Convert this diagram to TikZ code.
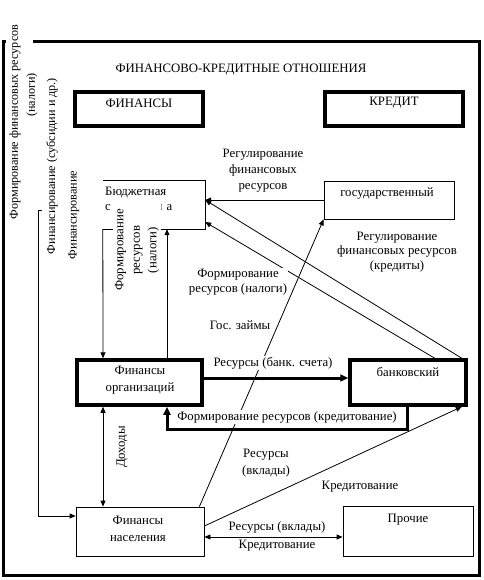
\documentclass[tikz,border=0pt]{standalone}
\usepackage{fontspec}
\setmainfont{Liberation Serif}
\usetikzlibrary{arrows.meta}
\begin{document}
\begin{tikzpicture}[x=1pt,y=-1pt,
  every node/.style={font=\fontsize{12.8}{15}\selectfont, inner sep=1pt},
  side/.style={font=\fontsize{12.2}{15}\selectfont},
  thinbox/.style={draw, line width=0.8pt, inner sep=0pt},
  thickbox/.style={draw, line width=3.5pt, inner sep=0pt},
  lbl/.style={fill=white, inner sep=1pt, align=center},
  conn/.style={line width=0.8pt, -{Triangle[length=6pt,width=5pt]}},
  bconn/.style={line width=0.8pt, {Triangle[length=6pt,width=5pt]}-{Triangle[length=6pt,width=5pt]}},
  tconn/.style={line width=3pt, -{Triangle[length=8pt,width=7pt]}}]
\useasboundingbox (0,0) rectangle (483,580);
% frame
\draw[line width=3pt] (33,42) -- (479,42) -- (479,575) -- (3,575) -- (3,42) -- (6,42);
% left rotated texts
\node[rotate=90, side] (lt1) at (15,122) {Формирование финансовых ресурсов};
\node[rotate=90, side] (lt2) at (32,95) {(налоги)};
\node[rotate=90, side] (lt3) at (52,166) {Финансирование (субсидии и др.)};
\node[rotate=90, side] (lt4) at (74,215) {Финансирование};
% title
\node (title) at (241,70) {ФИНАНСОВО-КРЕДИТНЫЕ ОТНОШЕНИЯ};
% boxes
\node[thickbox, minimum width=128pt, minimum height=34pt] (fin) at (139,109) {};
\node (fint) at (139,103) {ФИНАНСЫ};
\node[thickbox, minimum width=138pt, minimum height=34pt] (kred) at (394,109) {};
\node (kredt) at (394,103) {КРЕДИТ};
\node[inner sep=0pt, minimum width=102pt, minimum height=48pt] (bud) at (154,205) {};
\draw[line width=0.8pt] (bud.north west) -- (bud.north east) -- (bud.south east) -- (bud.south west);
\node[anchor=west] (budt1) at (104,193) {Бюджетная};
\node[anchor=west] (budt2) at (104,207.5) {\makebox[67pt][l]{с\hfill и\hfill с\hfill т\hfill е\hfill м\hfill а}};
\node[rotate=90, fill=white, align=center, inner xsep=6pt, inner ysep=2pt, font=\fontsize{12.8}{16.5}\selectfont] (budf) at (137,250) {Формирование\\ресурсов\\(налоги)};
\node[thinbox, minimum width=130pt, minimum height=38pt] (gos) at (389,200) {};
\node (gost) at (387,193) {государственный};
\node[thickbox, minimum width=125pt, minimum height=45pt] (org) at (139.5,382.5) {};
\node[align=center, font=\fontsize{12.8}{17}\selectfont] (orgt) at (140,380) {Финансы\\организаций};
\node[thickbox, minimum width=116pt, minimum height=45pt] (bank) at (408,382.5) {};
\node (bankt) at (408,372) {банковский};
\node[thinbox, minimum width=128pt, minimum height=49pt] (nas) at (140,531.5) {};
\node[align=center, font=\fontsize{12.8}{17}\selectfont] (nast) at (138,528.5) {Финансы\\населения};
\node[thinbox, minimum width=130pt, minimum height=50pt] (proch) at (408,531) {};
\node (procht) at (408,520) {Прочие};
% connectors
\draw[conn] (gos.west) -- (bud.east |- gos.west);
\draw[conn] ([xshift=-6pt]bank.north east) -- (bud.east |- gos.west);
\draw[conn] ([xshift=-33pt]bank.north east) -- ([yshift=-17pt]bud.east);
\draw[conn] ([xshift=-5pt]nas.north east) -- (gos.south west);
\draw[conn] ([xshift=27.5pt]org.north) -- ([xshift=13pt]bud.south);
\draw[conn] (bud.south west) -- ([xshift=-36.5pt]org.north);
\draw[tconn] ([yshift=4.5pt]org.east) -- ([yshift=4.5pt]bank.west);
\draw[tconn] ([xshift=-1pt]bank.south) -- ++(0,23) -| ([xshift=27.5pt]org.south);
\draw[conn] ([yshift=5.5pt]nas.east) -- ([xshift=-6pt]bank.south east);
\draw[bconn] ([yshift=-5.5pt]nas.east) -- ([yshift=-6pt]proch.west);
\draw[bconn] ([xshift=-36.5pt]org.south) -- ([xshift=-37pt]nas.north);
\coordinate (fstart) at (42,210);
\draw[conn] (fstart) -- ++(-4,0) |- ([yshift=15.5pt]nas.west);
% labels
\node[lbl, font=\fontsize{12.8}{16}\selectfont] (l1) at (263,171) {Регулирование\\финансовых\\ресурсов};
\node[lbl, font=\fontsize{12.8}{14.5}\selectfont] (l2) at (397,252) {Регулирование\\финансовых ресурсов\\(кредиты)};
\node[lbl, font=\fontsize{12.8}{15}\selectfont] (l3) at (238,282.5) {Формирование\\ресурсов (налоги)};
\node[lbl] (l4) at (240,325) {Гос. займы};
\node[lbl] (l5) at (273,363) {Ресурсы (банк. счета)};
\node[lbl] (l6) at (287,417) {Формирование ресурсов (кредитование)};
\node[lbl, font=\fontsize{12.8}{17}\selectfont] (l7) at (266,463.5) {Ресурсы\\(вклады)};
\node[lbl] (l8) at (360,487) {Кредитование};
\node[lbl] (l9) at (277,527) {Ресурсы (вклады)};
\node[lbl] (l10) at (277,546) {Кредитование};
\node[rotate=90] (l11) at (122,447) {Доходы};
\end{tikzpicture}
\end{document}
